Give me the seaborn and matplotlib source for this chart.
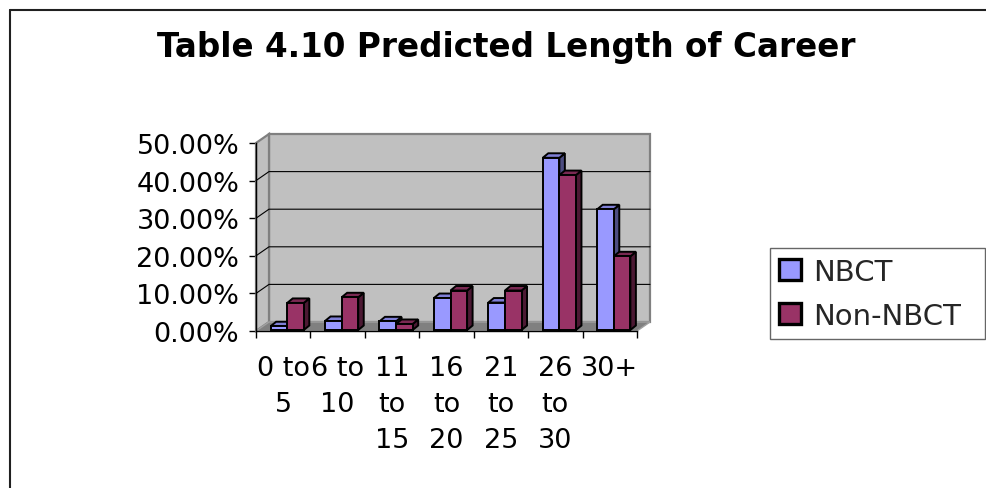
import textwrap

import matplotlib
matplotlib.use("Agg")
import matplotlib.pyplot as plt
import matplotlib.transforms as mtransforms
from matplotlib.lines import Line2D
from matplotlib.patches import Polygon, Patch
import pandas as pd
import seaborn as sns

# ---- data -------------------------------------------------------------
ranges = ["0 to 5", "6 to 10", "11 to 15", "16 to 20", "21 to 25", "26 to 30", "30+"]
groups = ["NBCT", "Non-NBCT"]
nbct = [1.0, 2.4, 2.3, 8.5, 7.3, 45.8, 32.1]
non_nbct = [7.2, 8.7, 1.6, 10.5, 10.5, 41.2, 19.6]
y_ticks = [0, 10, 20, 30, 40, 50]
title = "Table 4.10 Predicted Length of Career"

# ---- styling ----------------------------------------------------------
front_colors = ["#9999FF", "#993366"]
top_colors = ["#7F7FD6", "#7A2952"]
side_colors = ["#4C4C80", "#4C1933"]
wall_color = "#C0C0C0"
floor_color = "#808080"
edge_gray = "#808080"

sns.set_theme(style="white")
plt.rcParams["font.family"] = ["DejaVu Sans"]

W, H, DPI = 986, 489, 100
fig = plt.figure(figsize=(W / DPI, H / DPI), dpi=DPI)
fig.patch.set_facecolor("white")

# front plane of the plot, in pixels
left_px, right_px, bottom_px, top_px = 256, 637, 332, 144
ax = fig.add_axes([left_px / W, 1 - bottom_px / H,
                   (right_px - left_px) / W, (bottom_px - top_px) / H])
ax.patch.set_visible(False)

n = len(ranges)
px_per_x = (right_px - left_px) / n
px_per_y = (bottom_px - top_px) / (y_ticks[-1] - y_ticks[0])

# depth of the walls and of each bar, expressed in data units
wall_dx, wall_dy = 13 / px_per_x, 9 / px_per_y
bar_dx, bar_dy = 5.5 / px_per_x, 4.5 / px_per_y

df = pd.DataFrame({
    "range": ranges * 2,
    "group": [groups[0]] * n + [groups[1]] * n,
    "pct": nbct + non_nbct,
})

sns.barplot(data=df, x="range", y="pct", hue="group", order=ranges,
            hue_order=groups, palette=front_colors, saturation=1,
            width=0.61, errorbar=None, edgecolor="black", linewidth=1.4,
            legend=False, ax=ax)

x0, x1 = -0.5, n - 0.5
y0, y1 = y_ticks[0], y_ticks[-1]
ax.set_xlim(x0, x1)
ax.set_ylim(y0, y1)

# ---- walls and floor ----------------------------------------------------
back_wall = Polygon([(x0 + wall_dx, y0 + wall_dy), (x1 + wall_dx, y0 + wall_dy),
                     (x1 + wall_dx, y1 + wall_dy), (x0 + wall_dx, y1 + wall_dy)],
                    closed=True, facecolor=wall_color, edgecolor=edge_gray,
                    linewidth=1.6, zorder=0.5, clip_on=False)
side_wall = Polygon([(x0, y0), (x0 + wall_dx, y0 + wall_dy),
                     (x0 + wall_dx, y1 + wall_dy), (x0, y1)],
                    closed=True, facecolor=wall_color, edgecolor=edge_gray,
                    linewidth=1.6, zorder=0.6, clip_on=False)
floor = Polygon([(x0, y0), (x1, y0), (x1 + wall_dx, y0 + wall_dy),
                 (x0 + wall_dx, y0 + wall_dy)],
                closed=True, facecolor=floor_color, edgecolor="#A0A0A0",
                linewidth=1.0, zorder=0.7, clip_on=False)
for p in (back_wall, side_wall, floor):
    ax.add_patch(p)

for yv in y_ticks[1:-1]:
    ax.plot([x0, x0 + wall_dx, x1 + wall_dx], [yv, yv + wall_dy, yv + wall_dy],
            color="black", linewidth=0.8, zorder=0.8, clip_on=False)

# ---- 3-D faces of the bars ----------------------------------------------
bar_shift = mtransforms.ScaledTranslation(4 / DPI, 1 / DPI, fig.dpi_scale_trans)
for gi, container in enumerate(ax.containers):
    base_z = 2 + gi
    for bar in container:
        bx, bw, bh = bar.get_x(), bar.get_width(), bar.get_height()
        trans = ax.transData + bar_shift
        bar.set_transform(trans)
        bar.set_zorder(base_z + 0.5)
        bar.set_clip_on(False)
        side = Polygon([(bx + bw, 0), (bx + bw + bar_dx, bar_dy),
                        (bx + bw + bar_dx, bh + bar_dy), (bx + bw, bh)],
                       closed=True, facecolor=side_colors[gi], edgecolor="black",
                       linewidth=1.4, transform=trans, zorder=base_z,
                       clip_on=False)
        top = Polygon([(bx, bh), (bx + bw, bh), (bx + bw + bar_dx, bh + bar_dy),
                       (bx + bar_dx, bh + bar_dy)],
                      closed=True, facecolor=top_colors[gi], edgecolor="black",
                      linewidth=1.4, transform=trans, zorder=base_z + 0.1,
                      clip_on=False)
        ax.add_patch(side)
        ax.add_patch(top)

# ---- axes, ticks, labels --------------------------------------------------
for s in ("top", "right"):
    ax.spines[s].set_visible(False)
for s in ("left", "bottom"):
    ax.spines[s].set_color("black")
    ax.spines[s].set_linewidth(1.0)
    ax.spines[s].set_zorder(5)

ax.set_yticks(y_ticks)
ax.set_yticklabels([f"{v:.2f}%" for v in y_ticks])
ax.tick_params(axis="y", direction="out", length=5, width=1.0, color="black",
               pad=7, labelsize=19.5, labelcolor="black", left=True)

ax.set_xticks([i - 0.5 for i in range(n + 1)])
ax.set_xticklabels([])
ax.set_xticks(range(n), minor=True)
ax.set_xticklabels([textwrap.fill(r, 4) for r in ranges], minor=True,
                   linespacing=1.5)
ax.tick_params(axis="x", which="major", direction="out", length=5, width=1.0,
               color="black", bottom=True)
ax.tick_params(axis="x", which="minor", length=0, pad=17, labelsize=19.5,
               labelcolor="black")
ax.set_xlabel("")
ax.set_ylabel("")

# ---- title, legend, outer frame ---------------------------------------
fig.text(506 / W, 1 - 57 / H, title, ha="center", va="baseline",
         fontsize=23.5, fontweight="bold", color="black")

handles = [Patch(facecolor=c, edgecolor="black", linewidth=2.4) for c in front_colors]
leg = fig.legend(handles, groups, loc="lower left",
                 bbox_to_anchor=(770 / W, 1 - 340 / H, 215 / W, 93 / H),
                 bbox_transform=fig.transFigure, mode="expand",
                 frameon=True, fancybox=False,
                 fontsize=21, handlelength=0.75, handleheight=0.75,
                 handletextpad=0.4, labelspacing=0.55, borderpad=0.32,
                 borderaxespad=0)
leg.get_frame().set_edgecolor("#404040")
leg.get_frame().set_linewidth(1.0)

# chart-area frame: its right and bottom edges lie outside the canvas
frame_x, frame_y = 9.5 / W, 1 - 10.5 / H
fig.add_artist(Line2D([frame_x, 1.0], [frame_y, frame_y], transform=fig.transFigure,
                      color="#202020", linewidth=1.5))
fig.add_artist(Line2D([frame_x, frame_x], [0.0, frame_y], transform=fig.transFigure,
                      color="#202020", linewidth=1.5))

fig.savefig("out.png", dpi=DPI, facecolor="white")
